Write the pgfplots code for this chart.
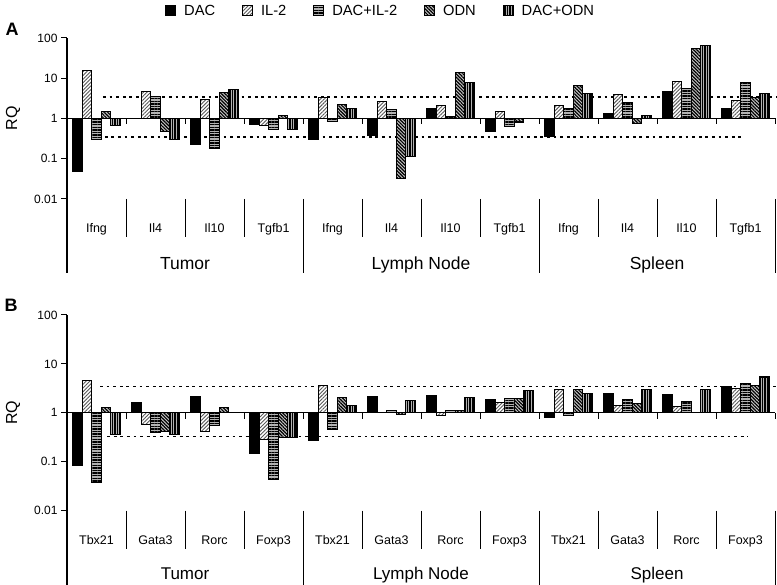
\documentclass[border=0pt]{standalone}
\usepackage{pgfplots}
\pgfplotsset{compat=1.18}
\usepackage{pgfplotstable}
\usepackage{fontspec}
\setmainfont{Liberation Sans}
\usetikzlibrary{patterns.meta}

\pgfplotstableread{
x dac il2 dacil2 odn dacodn
0 0.047 15.7 0.30 1.52 0.68
1 1.0 4.8 3.6 0.48 0.30
2 0.225 2.97 0.176 4.5 5.3
3 0.71 0.67 0.53 1.19 0.53
4 0.31 3.27 0.86 2.23 1.77
5 0.38 2.65 1.68 0.032 0.111
6 1.81 2.1 1.14 13.7 8.0
7 0.48 1.49 0.64 0.82 1.0
8 0.35 2.07 1.81 6.6 4.2
9 1.33 3.9 2.45 0.77 1.21
10 4.6 8.3 5.7 55 64
11 1.81 2.75 7.9 3.27 4.2
}\tabA

\pgfplotstableread{
x dac il2 dacil2 odn dacodn
0 0.084 4.5 0.038 1.27 0.36
1 1.63 0.57 0.39 0.42 0.36
2 2.13 0.41 0.56 1.29 1.0
3 0.146 0.28 0.043 0.32 0.31
4 0.27 3.7 0.46 2.07 1.44
5 2.13 1.0 1.13 0.94 1.76
6 2.23 0.87 1.12 1.12 2.1
7 1.88 1.66 1.94 1.94 2.92
8 0.81 3.0 0.88 3.0 2.5
9 2.5 1.42 1.85 1.58 3.06
10 2.38 1.37 1.71 1.0 3.0
11 3.53 3.16 3.95 3.65 5.4
}\tabB

\tikzset{
  sDAC/.style={fill=black},
  sIL/.style={preaction={fill=white}, pattern={Lines[angle=45,distance=2.6pt,line width=0.9pt]}, pattern color=black!65},
  sDACIL/.style={preaction={fill=black!30}, pattern={Lines[angle=0,distance=2.6pt,line width=1.4pt]}, pattern color=black},
  sODN/.style={preaction={fill=black!22}, pattern={Lines[angle=-45,distance=2.4pt,line width=1.2pt]}, pattern color=black},
  sDACODN/.style={preaction={fill=black!30}, pattern={Lines[angle=90,distance=2.5pt,line width=1.3pt]}, pattern color=black},
  dotl/.style={black, line width=1.35pt, dash pattern=on 2.8pt off 3.8pt},
}

\begin{document}
\begin{tikzpicture}
\useasboundingbox (0pt,0pt) rectangle (777pt,-585pt);

% Panel A
\begin{axis}[at={(67pt,-38pt)}, anchor=north west,
    scale only axis, width=708pt, height=161pt, xmin=-0.5, xmax=11.5,
    ymode=log, ymin=0.01, ymax=100,
    axis x line=none, axis y line*=left,
    ytick={0.01,0.1,1,10,100}, yticklabels={0.01,0.1,1,10,100},
    yminorticks=false, tick align=outside, major tick length=6pt,
    ytick style={line width=1pt, black},
    axis line style={line width=1.1pt, black},
    yticklabel style={font=\fontsize{12}{14}\selectfont},
    ylabel={RQ},
    ylabel style={at={(axis description cs:-0.0763,0.5)}, anchor=center, font=\fontsize{16}{18}\selectfont},
    clip=false,
    legend columns=5,
    legend style={draw=none, at={(axis description cs:0.443,1.168)}, anchor=center,
      font=\fontsize{14.7}{16}\selectfont,
      /tikz/every odd column/.append style={column sep=6pt},
      /tikz/every even column/.append style={column sep=25pt}},
    legend cell align=left,
    legend image code/.code={\draw[#1,line width=0.9pt] (0pt,-5pt) rectangle (10pt,5pt);}]
\addplot[dotl, forget plot] coordinates {(0.11,3.4) (11.53,3.4)};
\addplot[dotl, forget plot] coordinates {(0.14,0.35) (10.96,0.35)};
\addplot[ybar, bar width=9.4pt, bar shift=-18.8pt, draw=black, line width=1.1pt, sDAC] table[x=x,y=dac]{\tabA};
\addplot[ybar, bar width=9.4pt, bar shift=-9.4pt, draw=black, line width=1.1pt, sIL] table[x=x,y=il2]{\tabA};
\addplot[ybar, bar width=9.4pt, bar shift=0pt, draw=black, line width=1.1pt, sDACIL] table[x=x,y=dacil2]{\tabA};
\addplot[ybar, bar width=9.4pt, bar shift=9.4pt, draw=black, line width=1.1pt, sODN] table[x=x,y=odn]{\tabA};
\addplot[ybar, bar width=9.4pt, bar shift=18.8pt, draw=black, line width=1.1pt, sDACODN] table[x=x,y=dacodn]{\tabA};
\legend{DAC,IL-2,DAC+IL-2,ODN,DAC+ODN}
\draw[line width=1.1pt] (axis cs:-0.5,1) -- (axis cs:11.5,1);
\pgfplotsinvokeforeach{0.5,1.5,2.5,3.5,4.5,5.5,6.5,7.5,8.5,9.5,10.5,11.5}{
  \draw[line width=0.9pt] (axis cs:#1,1) -- ++(0pt,-6pt);
}
\end{axis}

% Panel B
\begin{axis}[at={(67pt,-315pt)}, anchor=north west,
    scale only axis, width=708pt, height=195.7pt, xmin=-0.5, xmax=11.5,
    ymode=log, ymin=0.01, ymax=100,
    axis x line=none, axis y line*=left,
    ytick={0.01,0.1,1,10,100}, yticklabels={0.01,0.1,1,10,100},
    yminorticks=false, tick align=outside, major tick length=6pt,
    ytick style={line width=1pt, black},
    axis line style={line width=1.1pt, black},
    yticklabel style={font=\fontsize{12}{14}\selectfont},
    ylabel={RQ},
    ylabel style={at={(axis description cs:-0.0763,0.5)}, anchor=center, font=\fontsize{16}{18}\selectfont},
    clip=false]
\addplot[dotl] coordinates {(0.06,3.5) (11.53,3.5)};
\addplot[dotl] coordinates {(0.18,0.33) (11.04,0.33)};
\addplot[ybar, bar width=9.4pt, bar shift=-18.8pt, draw=black, line width=1.1pt, sDAC] table[x=x,y=dac]{\tabB};
\addplot[ybar, bar width=9.4pt, bar shift=-9.4pt, draw=black, line width=1.1pt, sIL] table[x=x,y=il2]{\tabB};
\addplot[ybar, bar width=9.4pt, bar shift=0pt, draw=black, line width=1.1pt, sDACIL] table[x=x,y=dacil2]{\tabB};
\addplot[ybar, bar width=9.4pt, bar shift=9.4pt, draw=black, line width=1.1pt, sODN] table[x=x,y=odn]{\tabB};
\addplot[ybar, bar width=9.4pt, bar shift=18.8pt, draw=black, line width=1.1pt, sDACODN] table[x=x,y=dacodn]{\tabB};
\draw[line width=1.1pt] (axis cs:-0.5,1) -- (axis cs:11.5,1);
\pgfplotsinvokeforeach{0.5,1.5,2.5,3.5,4.5,5.5,6.5,7.5,8.5,9.5,10.5,11.5}{
  \draw[line width=0.9pt] (axis cs:#1,1) -- ++(0pt,-6pt);
}
\end{axis}

% category separators and labels
\begin{scope}[x=1pt,y=1pt]
\draw[line width=1.1pt] (67,-199) -- (67,-273);
\draw[line width=1.1pt] (67,-510.7) -- (67,-585);
\foreach \k in {1,2,3,5,6,7,9,10,11} {
  \draw[line width=0.9pt] ({67+59*\k},-199) -- ++(0,-38);
  \draw[line width=0.9pt] ({67+59*\k},-510.7) -- ++(0,-38);
}
\foreach \k in {4,8,12} {
  \draw[line width=0.9pt] ({67+59*\k},-199) -- ({67+59*\k},-273);
  \draw[line width=0.9pt] ({67+59*\k},-510.7) -- ({67+59*\k},-585);
}
\foreach \g [count=\i from 0] in {Ifng,Il4,Il10,Tgfb1,Ifng,Il4,Il10,Tgfb1,Ifng,Il4,Il10,Tgfb1} {
  \node[anchor=base, font=\fontsize{12.5}{14}\selectfont, inner sep=0pt] at ({96.5+59*\i},-232.5) {\g};
}
\foreach \g [count=\i from 0] in {Tbx21,Gata3,Rorc,Foxp3,Tbx21,Gata3,Rorc,Foxp3,Tbx21,Gata3,Rorc,Foxp3} {
  \node[anchor=base, font=\fontsize{12.5}{14}\selectfont, inner sep=0pt] at ({96.5+59*\i},-544) {\g};
}
\foreach \t [count=\i from 0] in {Tumor,Lymph Node,Spleen} {
  \node[anchor=base, font=\fontsize{17.5}{20}\selectfont, inner sep=0pt] at ({185+236*\i},-270) {\t};
  \node[anchor=base, font=\fontsize{17}{20}\selectfont, inner sep=0pt] at ({185+236*\i},-579) {\t};
}
\node[font=\bfseries\fontsize{18}{20}\selectfont, inner sep=0pt] at (12,-29) {A};
\node[font=\bfseries\fontsize{18}{20}\selectfont, inner sep=0pt] at (11,-305) {B};
\end{scope}
\end{tikzpicture}
\end{document}
